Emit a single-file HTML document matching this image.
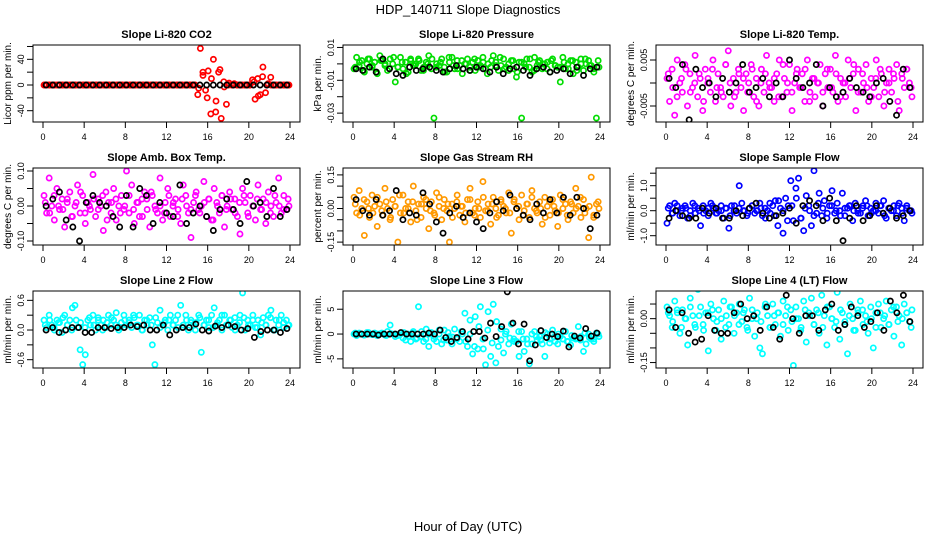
<!DOCTYPE html>
<html><head><meta charset="utf-8">
<style>
html,body{margin:0;padding:0;background:#fff;}
svg{display:block;font-family:"Liberation Sans",sans-serif;}
</style></head>
<body>
<svg id="chart" width="936" height="540" viewBox="0 0 936 540">
<text x="468" y="14" text-anchor="middle" font-size="13">HDP_140711  Slope Diagnostics</text>
<text x="468" y="531" text-anchor="middle" font-size="13">Hour of Day (UTC)</text>
</svg>
<script>
const xTicks=[0,4,8,12,16,20,24];
const titles=["Slope Li-820 CO2","Slope Li-820 Pressure","Slope Li-820 Temp.","Slope Amb. Box Temp.","Slope Gas Stream RH","Slope Sample Flow","Slope Line 2 Flow","Slope Line 3 Flow","Slope Line 4 (LT) Flow"];
const yTitles=["Licor ppm per min.","kPa per min.","degrees C per min.","degrees C per min.","percent per min.","ml/min per min.","ml/min per min.","ml/min per min.","ml/min per min."];
const colors=["#ff0000","#00dd00","#ff00ff","#ff00ff","#ff9900","#0000ff","#00ffff","#00ffff","#00ffff"];
const yDomains=[[-57.6,62.3],[-0.0354,0.0115],[-0.00848,0.00826],[-0.1114,0.1086],[-0.1629,0.1808],[-1.372,1.708],[-0.768,0.789],[-6.84,8.67],[-0.1686,0.0945]];
const yTickVals=[[-40,-20,0,20,40,60],[-0.03,-0.02,-0.01,0,0.01],[-0.005,0,0.005],[-0.1,-0.05,0,0.05,0.1],[-0.15,-0.1,-0.05,0,0.05,0.1,0.15],[-1,-0.5,0,0.5,1,1.5],[-0.6,-0.3,0,0.3,0.6],[-5,0,5],[-0.15,-0.1,-0.05,0,0.05]];
const yTickLabels=[["-40","","0","","40",""],["-0.03","","-0.01","","0.01"],["-0.005","","0.005"],["-0.10","","0.00","","0.10"],["-0.15","","","0.00","","","0.15"],["-1.0","","0.0","","1.0",""],["-0.6","","0.0","","0.6"],["-5","0","5"],["-0.15","","","0.00",""]];

const co2=[0,0,0,0,0,0,0,0,0,0,0,0,0,0,0,0,0,0,0,0,0,0,0,0,0,0,0,0,0,0,0,0,0,0,0,0,0,0,0,0,0,0,0,0,0,0,0,0,0,0,0,0,0,0,0,0,0,0,0,-15,57,15,-8,22,-45,40,-25,20,-52,5,-30,3,0,2,0,0,0,0,0,0,8,-22,10,-15,28,-12,2,12,0,0,0,0,0,0,0];
const co2B=[0,0,0,0,0,0,0,0,0,0,0,0,0,0,0,0,0,0,0,0,0,0,0,0,0,0,0,0,0,0,0,0,0,0,0,0,-5,20,-20,10,-42,24,-3,0,0,0,0,0,0,5,-17,13,0,0,0,0,0,0];
const co2Blk=[0,0,0,0,0,0,0,0,0,0,0,0,0,0,0,0,0,0,0,0,0,0,0,0,0,0,0,0,0,0,0,0,0,0,0,0,0];
const press=[-0.003,0.004,-0.001,0.002,-0.005,0,0.003,-0.002,0.001,-0.006,0.005,0.002,-0.001,-0.004,0.003,0,-0.011,-0.002,0.004,-0.003,0.001,-0.005,0.002,-0.001,0,0.003,-0.004,-0.002,0.001,0.005,-0.003,-0.033,0,-0.001,0.003,-0.002,-0.005,0.001,0.004,-0.003,0.002,-0.001,-0.006,0,0.003,-0.002,0.001,-0.004,0.002,-0.001,0.004,-0.003,0,-0.002,0.005,0.001,-0.004,-0.001,0.003,-0.002,-0.004,0.002,-0.003,-0.008,0.001,-0.033,0,0.003,-0.002,-0.005,0.004,-0.001,0.002,-0.003,0,0.001,-0.005,0.003,-0.001,-0.002,-0.011,0.004,-0.003,0,0.002,-0.006,0.001,-0.002,0.003,-0.004,0,0.002,-0.001,-0.003,-0.033,-0.002];
const pressB=[-0.002,0.001,-0.004,0.003,-0.001,-0.005,0.002,0,-0.003,0.004,-0.002,0.001,-0.006,0.003,-0.001,0.002,-0.004,0,0.003,-0.002,0.001,-0.005,0.004,-0.001,-0.003,0.002,0,-0.004,0.003,-0.002,0.001,-0.006,0.002,-0.001,0.004,-0.003,0,0.002,-0.005,0.001,-0.002,0.003,-0.004,0.001,0,-0.003,0.002,-0.001,-0.002,0.001,-0.003,0.002,-0.004,0,0.003,-0.001,-0.005,0.002];
const pressBlk=[-0.003,-0.004,-0.002,-0.005,0.003,-0.003,-0.006,-0.007,-0.002,-0.004,-0.003,-0.002,-0.004,-0.005,-0.003,-0.001,-0.003,-0.004,-0.002,-0.003,-0.005,-0.002,-0.006,-0.003,-0.002,-0.004,-0.007,-0.003,-0.002,-0.005,-0.004,-0.003,-0.006,-0.002,-0.007,-0.003,-0.002];
const temp=[0.001,-0.004,0.003,-0.007,0.005,0,-0.002,0.004,-0.005,0.002,-0.001,0.006,-0.003,0.001,-0.006,0.003,0,-0.002,0.005,-0.004,0.002,-0.001,-0.003,0.004,0.007,-0.005,0.001,-0.002,0.003,-0.001,-0.006,0.002,0,0.004,-0.003,0.001,-0.005,0.003,-0.002,0.006,0,-0.001,-0.004,0.002,0.005,-0.003,0.001,-0.002,0.004,-0.006,0,0.003,-0.001,0.002,-0.004,0.005,-0.002,0.001,-0.003,0,0.004,-0.005,0.002,-0.001,0.003,-0.002,0.006,-0.004,0.001,0,-0.003,0.005,-0.001,0.002,-0.006,0.003,-0.002,0,0.004,-0.004,0.001,-0.001,0.005,-0.003,0.002,-0.005,0,0.003,-0.002,0.001,0.004,-0.006,0.002,-0.001,0.003,0,-0.003];
const tempB=[0.002,-0.001,-0.003,0.001,0.003,-0.002,0,0.002,-0.004,0.001,0.003,-0.001,-0.002,0.004,0,-0.003,0.002,0.001,-0.002,0.003,-0.004,0,0.002,-0.001,0.001,-0.003,0.004,0,-0.002,0.002,-0.001,0.003,-0.004,0.001,0,-0.002,0.003,-0.001,0.002,-0.003,0,0.001,0.004,-0.002,0.002,-0.001,-0.003,0.001,0.003,-0.002,0,0.002,-0.004,0.001,0.003,-0.001];
const tempBlk=[0.001,-0.001,0.004,-0.008,0.003,-0.001,0,-0.003,0.001,-0.002,0,0.004,-0.002,-0.001,0.001,-0.003,0,-0.003,0.005,0.001,-0.001,0,0.004,-0.005,-0.001,-0.003,-0.002,0.001,-0.001,-0.002,-0.003,0,0.001,-0.004,-0.007,0.003,-0.001];
const amb=[0.03,-0.02,0.08,0,-0.04,0.05,-0.01,0.02,-0.06,0.01,0.04,-0.03,0,0.06,-0.02,0.03,-0.05,0.01,-0.01,0.09,-0.03,0.02,0,-0.07,0.04,0.01,-0.02,0.05,-0.04,0,0.03,-0.01,0.10,-0.02,0.06,-0.05,0.01,-0.03,0.02,0.04,-0.01,-0.06,0.03,0,-0.02,0.08,-0.04,0.01,0.05,-0.03,0,0.02,-0.01,-0.05,0.06,0.03,-0.02,-0.09,0.01,0.04,-0.01,0,0.07,-0.03,0.02,-0.04,0.05,0.01,-0.02,0.03,-0.06,0,0.04,-0.01,0.02,-0.03,-0.08,0.05,0.01,-0.02,0.03,0,-0.04,0.06,-0.01,0.02,-0.05,0.04,0,-0.03,0.01,0.08,-0.02,0.03,-0.01,0];
const ambB=[0.01,-0.02,0.03,0,-0.01,0.02,-0.03,0.01,0.04,-0.02,0,0.02,-0.01,0.03,-0.04,0.01,0.02,-0.02,0,0.03,-0.01,0.01,-0.03,0.02,0.04,-0.01,0,-0.02,0.03,0.01,-0.03,0.02,0,-0.01,0.03,-0.02,0.01,0.02,-0.04,0,0.03,-0.01,0.02,-0.02,0.01,0.03,-0.03,0,0.02,-0.01,0.01,-0.02,0.03,0,-0.01,0.02];
const ambBlk=[0,0.02,0.04,-0.04,-0.06,-0.10,0.01,0.03,0.01,0,-0.03,-0.06,0.03,-0.06,0.05,0.03,-0.05,0.01,-0.02,-0.03,0.06,-0.05,-0.02,0,-0.03,-0.07,-0.01,0.02,-0.01,-0.05,0.07,0,0.01,-0.03,0.05,-0.03,-0.01];
const rh=[0.05,-0.02,0.08,0,-0.12,0.03,-0.04,0.06,0.01,-0.08,0.02,-0.03,0.09,0,-0.05,0.04,0.01,-0.15,-0.02,0.06,0,0.03,-0.06,0.10,-0.01,0.02,-0.04,0.05,0,-0.09,0.03,-0.02,0.07,0.01,-0.05,0.04,-0.01,-0.15,0.02,0,0.06,-0.03,0.01,-0.06,0.04,0.09,-0.02,0,0.03,-0.04,0.12,-0.01,0.02,-0.07,0.05,0,-0.03,0.04,0.01,-0.02,0.07,-0.11,0.03,0,-0.05,0.06,-0.01,0.02,-0.04,0.08,0,-0.02,0.03,-0.07,0.05,0.01,-0.03,0.04,-0.01,-0.08,0.06,0,0.02,-0.05,0.03,-0.02,0.09,0.01,-0.04,0.04,0,-0.13,0.14,-0.03,0.02,0];
const rhB=[0.02,-0.03,0.04,0,-0.02,0.05,-0.01,0.03,-0.04,0.01,0.06,-0.02,0,0.03,-0.05,0.02,0.04,-0.01,-0.03,0.05,0,0.02,-0.04,0.03,0.01,-0.02,0.04,-0.03,0,0.05,-0.01,0.02,-0.04,0.03,0,-0.02,0.04,0.01,-0.03,0.02,0.05,-0.01,0,-0.04,0.03,0.01,-0.02,0.04,-0.03,0.02,0,0.05,-0.02,0.01,-0.04,0.03];
const rhBlk=[0.04,-0.01,-0.03,0.04,-0.03,-0.01,0.08,-0.05,-0.02,-0.03,0.07,0.02,-0.06,-0.11,-0.02,0.01,-0.04,-0.02,-0.06,-0.09,-0.02,0.03,-0.01,0.06,0,-0.03,-0.05,0.02,-0.02,0.04,-0.02,0.05,-0.03,0.05,0,-0.09,-0.03];
const flow=[-0.5,0.2,-0.1,0.3,0,-0.2,0.1,0.2,-0.3,0,0.3,-0.1,0.1,-0.6,0.2,0,-0.2,0.3,0.1,-0.1,0,0.2,-0.3,0.1,-0.7,0.2,0,-0.1,1.0,0.3,0,-0.2,0.1,0.2,-0.1,0,0.3,-0.2,0.1,0,-0.1,0.2,0.4,-0.6,0.1,-0.9,0.5,0.2,1.2,-0.4,0.9,1.3,-0.3,-0.8,0.6,0.2,-0.6,1.6,-0.1,0.7,-0.2,0.4,-0.3,0.2,0.8,-0.1,0.3,0,0.7,-0.2,0.1,0.2,-0.4,0.3,0,-0.1,0.2,0.4,-0.2,0.1,0,0.3,-0.1,0.2,0.4,-0.3,0.1,0,0.2,-0.2,0.3,0.1,-0.4,0.2,0,-0.1];
const flowB=[0.1,-0.1,0.2,0,0.1,-0.2,0.2,0,-0.1,0.1,0.2,-0.1,0,0.1,-0.2,0.2,0.1,0,-0.1,0.2,0,0.1,-0.3,0.3,-0.2,0.4,0,-0.4,0.2,0.5,-0.3,0.1,0,-0.2,0.3,0.1,-0.1,0.2,0,-0.2,0.1,0.2,0,-0.1,0.1,0.2,-0.1,0,0.2,-0.2,0.1,0,0.2,-0.1,0.1,0];
const flowBlk=[-0.3,0,-0.2,-0.3,-0.3,0.1,-0.1,0.1,-0.3,-0.3,0,-0.2,0.1,0.3,-0.1,-0.3,-0.2,-0.1,0.1,-0.5,0.2,0.4,0.2,-0.4,0.5,-0.4,-1.2,-0.3,0.2,-0.4,-0.2,0.2,-0.1,0.1,-0.3,-0.2,0];
const line2=[0.2,0.05,0.3,0.1,0,0.2,0.15,-0.05,0.3,0.1,0.2,0.45,0.5,0.05,-0.4,-0.7,-0.5,0.2,0.1,0.3,0,0.25,0.1,0.2,0.05,0.3,0.1,0.2,0.35,0,0.15,0.3,0.1,0.2,0.05,0.25,0.1,0.3,0,0.2,0.1,0.25,-0.3,-0.7,0.15,0.4,0.1,0.2,0,0.3,0.1,0.2,0.05,0.5,0.1,0.3,0,0.2,0.1,0.15,0.3,-0.45,0.1,0.2,0.05,0.3,0.45,0.1,0.2,0,0.3,0.1,0.2,0.05,0.25,0.1,0.3,0.75,0,0.2,0.1,0.3,0.05,0.2,-0.1,0.25,0.1,0.3,0.4,0,0.2,0.1,0.3,0.05,0.2,0.1];
const line2B=[0.1,0.2,0.05,0.15,0.25,0.1,0,0.2,0.15,0.05,0.25,0.1,0.2,0,0.15,0.25,0.1,0.05,0.2,0.15,0.3,0.1,0,0.2,0.1,0.25,0.05,0.15,0.2,0.1,0.3,0.05,0.2,0.15,0,0.25,0.1,0.2,0.05,0.15,0.3,0.1,0.2,0,0.15,0.25,0.1,0.2,0.05,0.15,0.1,0.25,0,0.2,0.15,0.1];
const line2Blk=[0,0.05,-0.05,0,0.05,0.05,-0.05,-0.05,0.05,0.05,0.03,0.05,0.05,0.1,0.07,0.1,0,0,0.1,-0.1,0,0.05,0.05,0.12,0,-0.02,0.08,0.05,0.1,0.07,0,0.03,-0.15,-0.03,0,0,-0.05,0.03];
const line3=[0,-0.3,0.2,0,-0.2,0.3,0,-0.1,0.2,-0.3,0,0.1,-0.2,0.5,1.8,0,-0.5,-0.3,0.2,-0.8,-1.2,0,-1.5,0.5,-1,5.5,-0.5,-1.5,1,-2.5,0.3,-1,-1.5,0,-2,0.8,-1.2,-0.5,-2,1,-0.8,-1.5,0,4.2,-2.5,2.8,-4,3.5,-3,5.5,-1,-6.2,4.5,-4.5,6,-5.8,-2.5,1,-3.8,0.5,-2,2,-1,-1.5,-4.5,0.5,-3.5,-1,-6,-2,0.5,-1.2,-0.5,-2,-4.5,0,-1,0.8,-1.5,-2,-0.5,-1,0.5,-1.5,-2.2,-0.8,-1,1.5,-0.5,-3.5,-2,0,-1,-1.5,0.2,-0.5];
const line3B=[0.2,0,-0.2,0.3,-0.1,0,0.2,-0.3,0.1,0,-0.2,0.3,-0.5,0.2,-0.8,0.5,-1,0,-0.5,0.8,-1.2,0.3,-0.6,-1,0.5,-1.5,0,-2.5,1.5,-3,0.8,-1.8,2.5,-1.2,0,-0.8,-1.5,0.5,-1,-2,0,-0.5,-1.2,0.3,-1.8,-0.6,0,-1,-1.5,-0.3,-0.8,-1.2,0.2,-0.7,-1,0];
const line3Blk=[0,0,0,0,-0.2,0,0,0,0.3,0,0,0,0,0.2,0,0.8,-0.7,-1.5,-0.7,0.5,-1,0.5,0.5,-0.8,2.2,-0.5,1.5,8.5,2.2,-2,2,-5.4,-2.2,0.7,-0.7,0,-0.5,0.6,-2.6,-0.4,-0.8,1.1,-0.4,0.2];
const line4=[0.04,0.01,-0.03,0.06,0.02,-0.05,0.03,0,-0.09,0.07,0.01,-0.03,0.10,0.04,-0.02,0.02,-0.11,0.05,0,-0.04,0.03,-0.07,0.06,0.01,-0.02,0.04,-0.05,0.02,0.05,-0.01,0.03,-0.03,0.07,0,-0.06,0.02,-0.10,-0.12,0.04,0.01,-0.03,0.05,-0.02,0.02,-0.06,0.06,0.01,-0.04,0.03,-0.16,0.04,0,-0.03,0.06,-0.08,0.02,0.07,-0.02,0.03,-0.05,0.08,0.01,-0.09,0.04,0,-0.03,0.09,-0.07,0.02,-0.01,-0.12,0.05,0,-0.04,0.03,0.06,-0.02,0.01,-0.05,0.04,-0.10,0.02,0.05,-0.03,0,0.06,-0.02,0.03,-0.06,0.04,0.01,-0.09,0.05,0.02,-0.01,0.03];
const line4B=[0.02,-0.01,0.03,-0.03,0,0.04,-0.02,0.01,-0.04,0.02,0.03,-0.01,0,-0.03,0.04,0.01,-0.02,0.02,-0.04,0.03,0,-0.01,0.05,-0.03,0.01,0.02,-0.02,0.04,-0.01,0,-0.04,0.03,0.01,-0.02,0.02,-0.03,0.04,0,-0.01,0.03,-0.02,0.01,-0.04,0.02,0.03,-0.01,0,-0.03,0.02,0.01,-0.02,0.04,-0.01,0,0.02,-0.03];
const line4Blk=[0.03,-0.03,0.02,-0.05,-0.08,-0.07,0.01,-0.04,-0.05,-0.05,0.02,0.05,0,0.01,-0.04,0.04,-0.03,-0.07,0.08,0,-0.05,0.01,0.01,-0.04,0.03,0.05,-0.04,-0.02,0.04,0.01,-0.03,-0.01,0.02,-0.04,0.06,0.02,0.08,-0.01];

const series=[co2,press,temp,amb,rh,flow,line2,line3,line4];
const series2=[co2B,pressB,tempB,ambB,rhB,flowB,line2B,line3B,line4B];
const blackSeries=[co2Blk,pressBlk,tempBlk,ambBlk,rhBlk,flowBlk,line2Blk,line3Blk,line4Blk];

const NS="http://www.w3.org/2000/svg";
const svg=document.getElementById('chart');
const colLeft=[33,343,656], rowTop=[45,168,291], W=267, H=77;
function mk(tag,attrs,parent){const e=document.createElementNS(NS,tag);for(const k in attrs)e.setAttribute(k,attrs[k]);parent.appendChild(e);return e;}

for(let p=0;p<9;p++){
  const L=colLeft[p%3], T=rowTop[Math.floor(p/3)], B=T+H, R=L+W;
  const g=mk('g',{},svg);
  
  
  const xs=v=>L+10+v*(247/24);
  const [d0,d1]=yDomains[p];
  const ys=v=>B-(v-d0)/(d1-d0)*H;
  const clip=mk('clipPath',{id:'c'+p},g);
  mk('rect',{x:L,y:T,width:W,height:H},clip);
  const cg=mk('g',{'clip-path':'url(#c'+p+')'},g);
  
  
  const s=series[p];
  s.forEach((v,i)=>{
    const c=mk('circle',{cx:xs(0.1+i*23.8/(s.length-1)),cy:ys(v),r:2.6,fill:'none',stroke:colors[p],'stroke-width':1.7},cg);
    
    
  });
  const s2=series2[p];
  s2.forEach((v,i)=>{
    const c=mk('circle',{cx:xs(0.22+i*23.6/(s2.length-1)),cy:ys(v),r:2.6,fill:'none',stroke:colors[p],'stroke-width':1.7},cg);
    
    
  });
  const bs=blackSeries[p];
  bs.forEach((v,i)=>{
    const c=mk('circle',{cx:xs(0.3+i*23.4/(bs.length-1)),cy:ys(v),r:2.6,fill:'none',stroke:'#000','stroke-width':1.7},cg);
    
    
  });
  const box=mk('rect',{x:L,y:T,width:W,height:H,fill:'none',stroke:'#000','stroke-width':1},g);
  
  
  const t=mk('text',{x:(L+R)/2,y:T-7,'text-anchor':'middle','font-size':11,'font-weight':'bold'},g);
  t.textContent=titles[p];
  
  
  const yt=mk('text',{x:0,y:0,'text-anchor':'middle','font-size':10,transform:`translate(${L-22},${(T+B)/2}) rotate(-90)`},g);
  yt.textContent=yTitles[p];
  
  
  xTicks.forEach(v=>{
    mk('line',{x1:xs(v),x2:xs(v),y1:B,y2:B+6,stroke:'#000'},g);
    const l=mk('text',{x:xs(v),y:B+18,'text-anchor':'middle','font-size':9},g);
    l.textContent=v;
    
    
  });
  yTickVals[p].forEach((v,i)=>{
    const y=ys(v); if(y<T-1||y>B+1)return;
    mk('line',{x1:L-6,x2:L,y1:y,y2:y,stroke:'#000'},g);
    const lab=yTickLabels[p][i];
    if(lab){
      const l=mk('text',{x:0,y:0,'text-anchor':'middle','font-size':9,transform:`translate(${L-9},${y}) rotate(-90)`},g);
      l.textContent=lab;
      
      
    }
  });
}
</script>
</body></html>
